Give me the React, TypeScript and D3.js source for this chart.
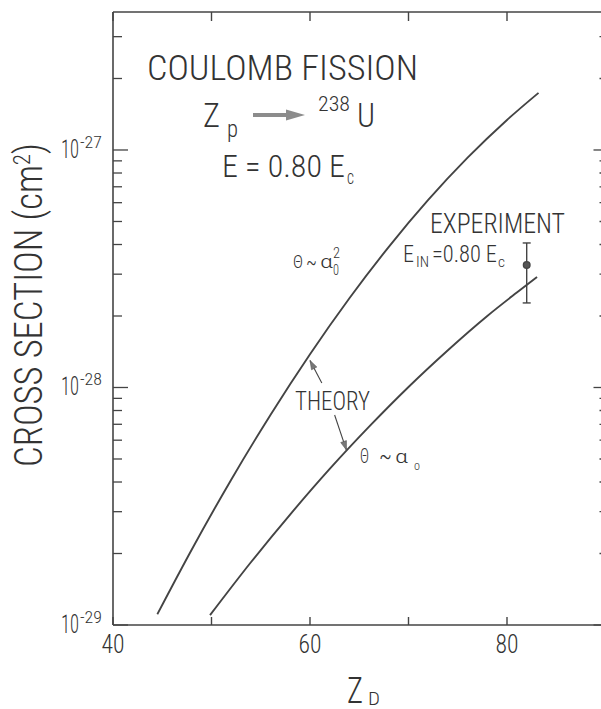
import React from "react";
import * as d3 from "d3";

// ---- data ----
const upperZ = [44.5, 48, 52, 56, 60, 64, 68, 72, 76, 80, 83.2];
const upperSigma = [1.11e-29, 2.08e-29, 4.09e-29, 7.68e-29, 1.381e-28, 2.376e-28, 3.91e-28, 6.16e-28, 9.28e-28, 1.338e-27, 1.74e-27];
const lowerZ = [49.85, 54, 58, 62, 66, 70, 74, 78, 81, 83.05];
const lowerSigma = [1.1e-29, 1.837e-29, 2.924e-29, 4.54e-29, 6.84e-29, 1.005e-28, 1.435e-28, 2.0e-28, 2.51e-28, 2.92e-28];
const expZ = [82];
const expSigma = [3.28e-28];
const expLow = [2.27e-28];
const expHigh = [4.06e-28];
const xTicks = [40, 50, 60, 70, 80, 90];
const xTickLabels = [40, 60, 80];
const yMajor = [-29, -28, -27];
// annotation arrows (data coords): [tailZ, tailS, tipZ, tipS]
const theoryArrows = [
  [61.2, 1.045e-28, 60.0, 1.3e-28],
  [62.5, 7.66e-29, 63.7, 5.45e-29],
];

const W = 601;
const H = 709;
const FONT = "'Roboto Condensed', Roboto, 'Liberation Sans', sans-serif";
const INK = "#333";
const LINE = "#444";

export default function App() {
  const x = d3.scaleLinear().domain([40, 90]).range([113, 605.5]);
  const y = d3.scaleLog().domain([1e-29, Math.pow(10, -26.419)]).range([625, 12]);
  const x0 = x(40), x1 = x(90);
  const yb = y(1e-29), yt = y(Math.pow(10, -26.419));

  const line = d3
    .line<[number, number]>()
    .x((d) => x(d[0]))
    .y((d) => y(d[1]))
    .curve(d3.curveMonotoneX);
  const upper = line(upperZ.map((z, i) => [z, upperSigma[i]] as [number, number])) || "";
  const lower = line(lowerZ.map((z, i) => [z, lowerSigma[i]] as [number, number])) || "";

  const minor: number[] = [];
  yMajor.forEach((e) => {
    for (let m = 2; m <= 9; m++) {
      const v = m * Math.pow(10, e);
      if (v < Math.pow(10, -26.419)) minor.push(v);
    }
  });

  const arrowHead = (tx: number, ty: number, fx: number, fy: number, len = 9, half = 3) => {
    const a = Math.atan2(ty - fy, tx - fx);
    const bx = tx - len * Math.cos(a), by = ty - len * Math.sin(a);
    const px = -Math.sin(a) * half, py = Math.cos(a) * half;
    return `M${tx},${ty}L${bx + px},${by + py}L${bx - px},${by - py}Z`;
  };

  const t = (props: any, txt: any) => (
    <text fontFamily={FONT} fill={INK} fontWeight={300} lengthAdjust="spacingAndGlyphs" {...props}>
      {txt}
    </text>
  );

  return (
    <svg
      width={W}
      height={H}
      style={{ position: "absolute", left: 0, top: 0, background: "#fff" }}
    >
      <rect x={0} y={0} width={W} height={H} fill="#fff" />
      {/* frame */}
      <g stroke={LINE} strokeWidth={1.6} fill="none">
        <line x1={x0} y1={yt} x2={x0} y2={yb} />
        <line x1={x0} y1={yb} x2={x1} y2={yb} />
        <line x1={x0} y1={yt} x2={x1} y2={yt} />
        <line x1={x1} y1={yt} x2={x1} y2={yb} />
      </g>
      {/* x ticks */}
      <g stroke={LINE} strokeWidth={1.4}>
        {xTicks.map((v) => (
          <g key={"xt" + v}>
            <line x1={x(v)} x2={x(v)} y1={yb} y2={yb - 8} />
            <line x1={x(v)} x2={x(v)} y1={yt} y2={yt + 9} />
          </g>
        ))}
      </g>
      {/* y ticks */}
      <g stroke={LINE} strokeWidth={1.3}>
        {yMajor.map((e) => (
          <g key={"ym" + e}>
            <line x1={x0} x2={x0 + 15} y1={y(Math.pow(10, e))} y2={y(Math.pow(10, e))} />
            <line x1={x1} x2={x1 - 12} y1={y(Math.pow(10, e))} y2={y(Math.pow(10, e))} />
          </g>
        ))}
        {minor.map((v, i) => (
          <g key={"ymi" + i}>
            <line x1={x0} x2={x0 + 9} y1={y(v)} y2={y(v)} />
            <line x1={x1} x2={x1 - 6} y1={y(v)} y2={y(v)} />
          </g>
        ))}
      </g>
      {/* tick labels */}
      {xTickLabels.map((v) =>
        t({ key: "xl" + v, x: x(v) - 11.5, y: 653, fontSize: 25, textLength: 23 }, String(v))
      )}
      {yMajor.map((e) => {
        const ty = y(Math.pow(10, e));
        return (
          <text key={"yl" + e} fontFamily={FONT} fontWeight={300} fill={INK} fontSize={25} lengthAdjust="spacingAndGlyphs">
            <tspan x={61} y={ty + 8} textLength={18} lengthAdjust="spacingAndGlyphs">10</tspan>
            <tspan x={80} y={ty - 2} fontSize={16} textLength={22} lengthAdjust="spacingAndGlyphs">{"-" + String(-e)}</tspan>
          </text>
        );
      })}
      {/* axis titles */}
      <g transform={`translate(42,${(143 + 467) / 2}) rotate(-90)`}>
        <text
          fontFamily={FONT}
          fontWeight={300}
          fill={INK}
          fontSize={38}
          textAnchor="middle"
          textLength={324}
          lengthAdjust="spacingAndGlyphs"
        >
          CROSS SECTION (cm<tspan dy={-12} fontSize={24}>2</tspan><tspan dy={12}>)</tspan>
        </text>
      </g>
      <text fontFamily={FONT} fontWeight={300} fill={INK} fontSize={36}>
        <tspan x={347} y={703} textLength={16} lengthAdjust="spacingAndGlyphs">Z</tspan>
        <tspan x={368} y={705} fontSize={19} textLength={12} lengthAdjust="spacingAndGlyphs">D</tspan>
      </text>

      {/* curves */}
      <path d={upper} fill="none" stroke={LINE} strokeWidth={1.9} />
      <path d={lower} fill="none" stroke={LINE} strokeWidth={1.9} />

      {/* experiment point */}
      {expZ.map((z, i) => (
        <g key={"e" + i} stroke={LINE} strokeWidth={1.4}>
          <line x1={x(z)} x2={x(z)} y1={y(expLow[i])} y2={y(expHigh[i])} />
          <line x1={x(z) - 4} x2={x(z) + 4} y1={y(expLow[i])} y2={y(expLow[i])} />
          <line x1={x(z) - 4} x2={x(z) + 4} y1={y(expHigh[i])} y2={y(expHigh[i])} />
          <circle cx={x(z)} cy={y(expSigma[i])} r={3.3} fill="#555" />
        </g>
      ))}

      {/* theory arrows */}
      {theoryArrows.map((a, i) => {
        const fx = x(a[0]), fy = y(a[1]), tx = x(a[2]), ty = y(a[3]);
        return (
          <g key={"ta" + i}>
            <line x1={fx} y1={fy} x2={tx} y2={ty} stroke={LINE} strokeWidth={1.1} />
            <path d={arrowHead(tx, ty, fx, fy)} fill="#777" stroke="#555" strokeWidth={0.6} />
          </g>
        );
      })}

      {/* title block */}
      {t({ x: 147, y: 80, fontSize: 35, textLength: 271 }, "COULOMB FISSION")}
      <text fontFamily={FONT} fontWeight={300} fill={INK} fontSize={34}>
        <tspan x={203} y={127} textLength={17} lengthAdjust="spacingAndGlyphs">Z</tspan>
        <tspan x={227} y={137} fontSize={23} textLength={11} lengthAdjust="spacingAndGlyphs">p</tspan>
      </text>
      <g fill="#8c8c8c">
        <rect x={253} y={113} width={36} height={4} />
        <path d="M286,109.5L305,115L286,120.5Z" />
      </g>
      <text fontFamily={FONT} fontWeight={300} fill={INK} fontSize={34}>
        <tspan x={318} y={111} fontSize={20} textLength={32} lengthAdjust="spacingAndGlyphs">238</tspan>
        <tspan x={357} y={127} textLength={18} lengthAdjust="spacingAndGlyphs">U</tspan>
      </text>
      <text fontFamily={FONT} fontWeight={300} fill={INK} fontSize={31}>
        <tspan x={222} y={177} textLength={123} lengthAdjust="spacingAndGlyphs">E = 0.80 E</tspan>
        <tspan x={347} y={184} fontSize={20} textLength={7} lengthAdjust="spacingAndGlyphs">c</tspan>
      </text>

      {/* experiment label */}
      {t({ x: 430, y: 233, fontSize: 28, textLength: 135 }, "EXPERIMENT")}
      <text fontFamily={FONT} fontWeight={300} fill={INK} fontSize={24}>
        <tspan x={403} y={262} textLength={11} lengthAdjust="spacingAndGlyphs">E</tspan>
        <tspan x={416} y={267} fontSize={14} textLength={13} lengthAdjust="spacingAndGlyphs">IN</tspan>
        <tspan x={432} y={262} textLength={65} lengthAdjust="spacingAndGlyphs">=0.80 E</tspan>
        <tspan x={498} y={267} fontSize={15} textLength={7} lengthAdjust="spacingAndGlyphs">c</tspan>
      </text>

      {/* theory labels */}
      {t({ x: 295, y: 410, fontSize: 25, textLength: 75 }, "THEORY")}
      <text fontFamily={FONT} fontWeight={300} fill={INK} fontSize={19}>
        <tspan x={293} y={268} textLength={10} lengthAdjust="spacingAndGlyphs">Θ</tspan>
        <tspan x={306} y={270} fontSize={24} textLength={11} lengthAdjust="spacingAndGlyphs">~</tspan>
        <tspan x={320} y={268} fontSize={18} textLength={13} lengthAdjust="spacingAndGlyphs">α</tspan>
        <tspan x={333} y={275} fontSize={14} textLength={6} lengthAdjust="spacingAndGlyphs">0</tspan>
        <tspan x={333} y={258} fontSize={14} textLength={7} lengthAdjust="spacingAndGlyphs">2</tspan>
      </text>
      <text fontFamily={FONT} fontWeight={300} fill={INK} fontSize={21}>
        <tspan x={360} y={463} textLength={9} lengthAdjust="spacingAndGlyphs">Θ</tspan>
        <tspan x={379} y={465} fontSize={26} textLength={13} lengthAdjust="spacingAndGlyphs">~</tspan>
        <tspan x={395} y={463} fontSize={19} textLength={13} lengthAdjust="spacingAndGlyphs">α</tspan>
        <tspan x={414} y={470} fontSize={13} textLength={6} lengthAdjust="spacingAndGlyphs">o</tspan>
      </text>
    </svg>
  );
}
